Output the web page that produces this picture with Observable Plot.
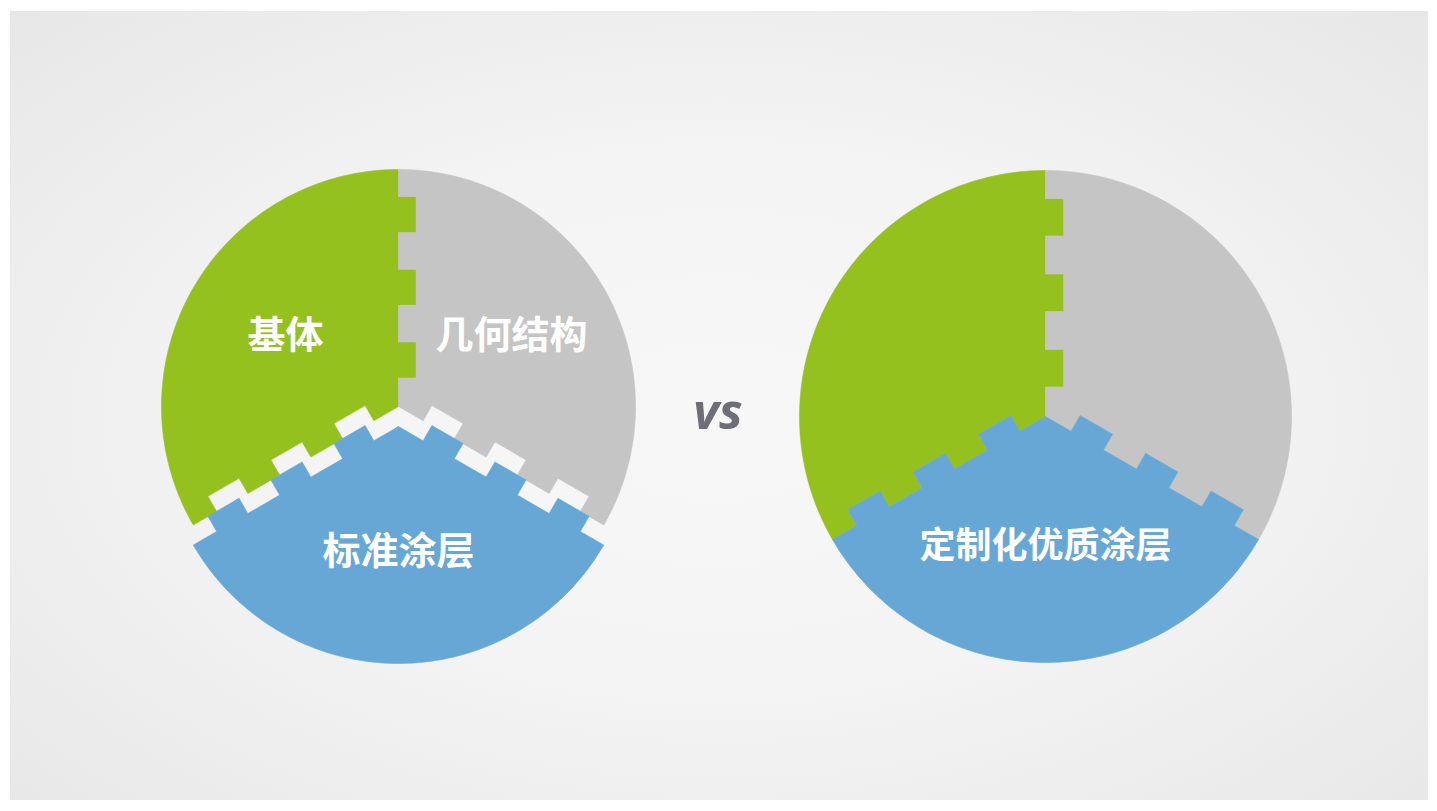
<!DOCTYPE html>
<html>
<head>
<meta charset="utf-8">
<script src="https://cdn.jsdelivr.net/npm/d3@7"></script>
<script src="https://cdn.jsdelivr.net/npm/@observablehq/plot@0.6"></script>
<style>
  html, body { margin: 0; padding: 0; background: #ffffff; }
  #wrap { position: relative; width: 1437px; height: 811px; overflow: hidden; }
  #bg { position: absolute; left: 10px; top: 11px; width: 1418px; height: 789px;
        background: radial-gradient(ellipse at 50% 52%, #f7f7f7 0%, #f4f4f4 45%, #e7e7e7 100%); }
  #chart { position: absolute; left: 0; top: 0; }
  #chart svg { background: transparent; }
</style>
</head>
<body>
<div id="wrap"><div id="bg"></div><div id="chart"></div></div>
<script>
// ---- data ----
const categories = ["基体", "几何结构", "涂层"];
const pieNames = ["标准", "定制"];
const leftValues = [1, 1, 1];
const rightValues = [1, 1, 1];
const leftLabels = ["基体", "几何结构", "标准涂层"];
const rightLabels = ["", "", "定制化优质涂层"];
const colors = ["#95c11f", "#c5c5c5", "#67a7d6"];
const tabRank = [1, 0, 2];           // which piece's tabs win on a shared edge
const vsLabel = "vs";

// ---- layout (code, not data) ----
const W = 1437, H = 811;
const pies = [
  {name: pieNames[0], values: leftValues, labels: leftLabels, cx: 398, cy: 406, r: 237, explode: [0, 0, 20], fs: 38},
  {name: pieNames[1], values: rightValues, labels: rightLabels, cx: 1045, cy: 416, r: 246, explode: [0, 0, 0], fs: 36}
];
const startAngle = -Math.PI * 2 / 3;   // first slice begins at 8 o'clock

function boundary(cx, cy, r, theta, side) {
  const dx = Math.sin(theta), dy = -Math.cos(theta);
  const px = Math.cos(theta) * side, py = Math.sin(theta) * side;
  const start = 0.12 * r, L = 0.152 * r, P = 0.307 * r, h = 0.074 * r;
  const pts = [[cx, cy]];
  for (let i = 0; i < 3; i++) {
    const t0 = start + i * P, t1 = t0 + L;
    pts.push([cx + dx * t0, cy + dy * t0]);
    pts.push([cx + dx * t0 + px * h, cy + dy * t0 + py * h]);
    pts.push([cx + dx * t1 + px * h, cy + dy * t1 + py * h]);
    pts.push([cx + dx * t1, cy + dy * t1]);
  }
  pts.push([cx + dx * r, cy + dy * r]);
  return pts;
}

const polys = [];
const labelData = [];
for (const pie of pies) {
  const total = d3.sum(pie.values);
  const n = pie.values.length;
  const angles = [startAngle];
  pie.values.forEach(v => angles.push(angles[angles.length - 1] + v / total * 2 * Math.PI));
  const bounds = [];
  for (let k = 0; k < n; k++) {
    const ccw = (k - 1 + n) % n, cw = k;
    const side = tabRank[ccw] > tabRank[cw] ? 1 : -1;
    bounds.push(boundary(pie.cx, pie.cy, pie.r, angles[k], side));
  }
  for (let i = 0; i < n; i++) {
    const a0 = angles[i], a1 = angles[i + 1];
    const b0 = bounds[i], b1 = bounds[(i + 1) % n];
    const pts = [...b0];
    const steps = 120;
    for (let s = 1; s < steps; s++) {
      const a = a0 + (a1 - a0) * s / steps;
      pts.push([pie.cx + Math.sin(a) * pie.r, pie.cy - Math.cos(a) * pie.r]);
    }
    pts.push(...b1.slice().reverse());
    const off = pie.explode[i];
    polys.push({color: colors[i], cat: categories[i], pts: pts.map(p => [p[0], p[1] + off])});
    if (pie.labels[i]) {
      const am = (a0 + a1) / 2;
      const d = 0.55 * pie.r;
      labelData.push({text: pie.labels[i], fs: pie.fs, x: pie.cx + Math.sin(am) * d, y: pie.cy - Math.cos(am) * d + off - 5});
    }
  }
}

const chart = Plot.plot({
  width: W, height: H, margin: 0,
  x: {domain: [0, W], range: [0, W], axis: null},
  y: {domain: [0, H], range: [0, H], axis: null},
  style: {background: "transparent"},
  marks: [
    ...polys.map(p => Plot.line(p.pts, {x: d => d[0], y: d => d[1], fill: p.color, stroke: p.color, strokeWidth: 0.6})),
    ...labelData.map(l => Plot.text([l], {x: "x", y: "y", text: "text", fill: "white", fontSize: l.fs, fontWeight: "bold",
      fontFamily: "'Noto Sans CJK SC', sans-serif"})),
    Plot.text([vsLabel], {x: [(pies[0].cx + pies[1].cx) / 2 - 4], y: [412], text: d => d, fill: "#6e6e76",
      fontSize: 50, fontWeight: "bold", fontStyle: "italic", fontFamily: "'Open Sans', sans-serif"})
  ]
});
document.getElementById("chart").appendChild(chart);
</script>
</body>
</html>
